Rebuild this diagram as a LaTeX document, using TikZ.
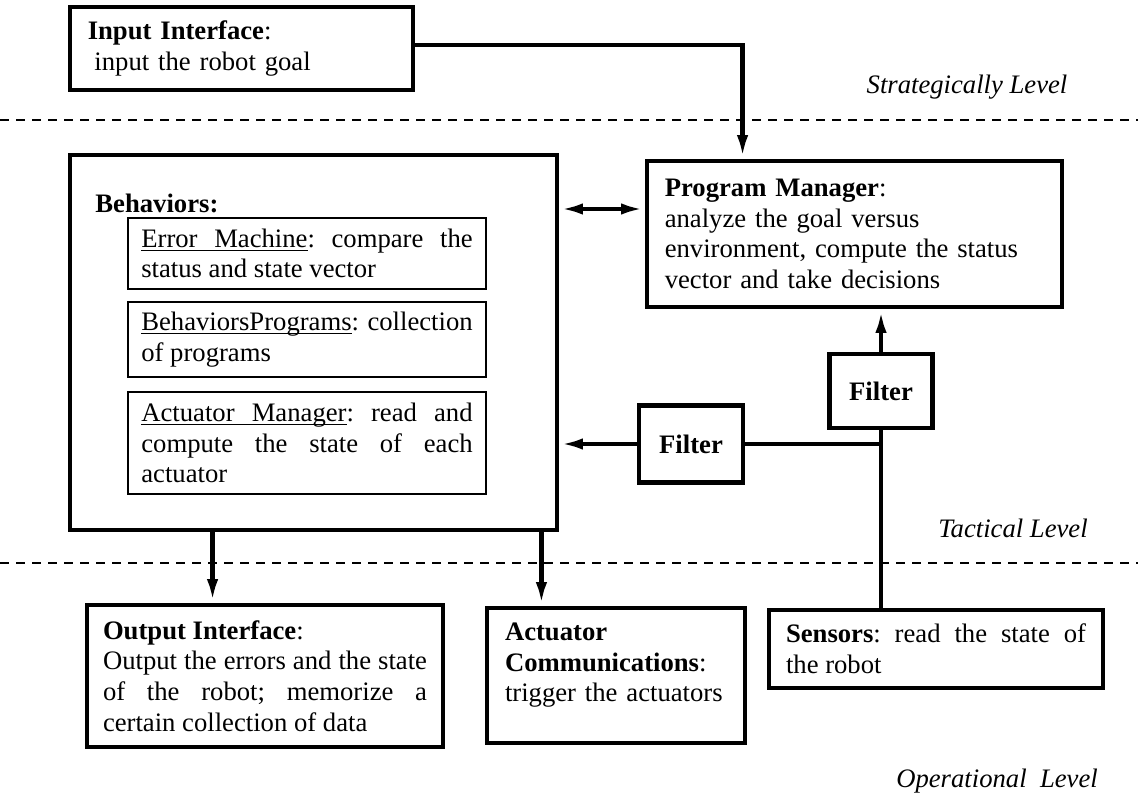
\documentclass[tikz,border=0pt]{standalone}
\usepackage{fontspec}
\setmainfont{Liberation Serif}
\usetikzlibrary{arrows.meta}
\frenchspacing

% underlined words and a stretchable underlined gap
\newcommand{\ulw}[1]{\underline{\smash{#1}}}
\newcommand{\ulsp}{\leaders\hrule height -1.2pt depth 1.6pt\hskip 0.25em plus 0.125em minus 0.08em\relax}

\begin{document}
\begin{tikzpicture}[x=0.45pt, y=-0.45pt, >={Latex[length=10.5pt,width=5pt]},
		font=\fontsize{12}{13.8}\selectfont,
		box/.style={draw, line width=2.2pt, inner xsep=8pt, inner ysep=0pt, align=left},
		sub/.style={draw, line width=0.9pt, inner xsep=6pt, inner ysep=0pt, align=justify,
			minimum width=161.1pt, text width=149.1pt},
		filter/.style={draw, line width=2.2pt, font=\fontsize{12}{13.8}\selectfont\bfseries},
		conn/.style={line width=2pt},
		level/.style={line width=0.9pt, dash pattern=on 4pt off 3.2pt},
		levelname/.style={font=\fontsize{12}{13.8}\selectfont\itshape}]
		\useasboundingbox (0,0) rectangle (1138,793);
		
		% level borders
		\draw[level] (0,120) -- (1138,120);
		\draw[level] (0,563) -- (1138,563);
		\node[levelname] (strat) at (967,87) {Strategically Level};
		\node[levelname] (tact) at (1013,528) {Tactical Level};
		\node[levelname] (oper) at (997,781) {Operational\ \ Level};
		
		% strategic level
		\node[box, minimum width=154.35pt, minimum height=37.35pt, text width=138.35pt] (input) at (241.5,48.5)
			{\textbf{Input Interface}:\\\hspace*{3pt}input the robot goal};
		
		% tactical level
		\node[box, minimum width=186.75pt, minimum height=65.7pt, text width=170.75pt] (pm) at (854.5,234)
			{\textbf{Program Manager}:\\analyze the goal versus\\environment, compute the status\\vector and take decisions};
		\node[box, minimum width=219.15pt, minimum height=168.75pt] (behav) at (313.5,342.5) {};
		\node[anchor=west, inner sep=0pt, font=\fontsize{12}{13.8}\selectfont\bfseries] (behavtitle) at (95,203) {Behaviors:};
		\node[sub, minimum height=31.95pt] (errmach) at (307,253.5)
			{\ulw{Error}\ulsp\ulw{Machine}: compare the\linebreak status and state vector};
		\node[sub, minimum height=33.75pt] (behprog) at (307,339.5)
			{\ulw{BehaviorsPrograms}: collection\linebreak of programs};
		\node[sub, minimum height=45.9pt] (actman) at (307,443)
			{\ulw{Actuator}\ulsp\ulw{Manager}: read and\linebreak compute the state of each\linebreak actuator};
		\node[filter, minimum width=46.8pt, minimum height=34.65pt] (filter1) at (691,444) {Filter};
		\node[filter, minimum width=46.35pt, minimum height=33.3pt] (filter2) at (881,391) {Filter};
		
		% operational level
		\node[box, align=justify, inner xsep=7.2pt, minimum width=160.2pt, minimum height=63.9pt, text width=145.8pt] (outif) at (265,676)
			{\textbf{Output Interface}:\\Output the errors and the state\linebreak of the robot; memorize a\linebreak certain collection of data};
		\node[box, minimum width=116.1pt, minimum height=60.75pt, text width=99.9pt] (actcom) at (616,675.5)
			{\parbox[c][47.25pt][t]{99.9pt}{\raggedright\textbf{Actuator}\\\textbf{Communications}:\\trigger the actuators}};
		\node[box, align=justify, inner xsep=7.65pt, minimum width=150.3pt, minimum height=35.1pt, text width=135pt] (sensors) at (936,649)
			{\textbf{Sensors}: read the state of\linebreak the robot};
		
		% connectors
		\coordinate (goalout) at ([yshift=1.5pt]input.east);
		\coordinate (pmlink) at ([yshift=11.25pt]pm.west);
		\coordinate (junc) at (filter2 |- filter1);
		\coordinate (outlink) at ([xshift=65.25pt]behav.south west);
		\coordinate (actlink) at ([xshift=-8.1pt]behav.south east);
		\draw[conn, ->] (goalout) -| ([xshift=44.1pt]pm.north west);
		\draw[conn, <->] (pmlink -| behav.east) -- (pmlink);
		\draw[conn, ->] (filter2.north) -- (filter2.north |- pm.south);
		\draw[conn] (sensors.north -| filter2.south) -- (filter2.south);
		\draw[conn] (junc) -- (filter1.east);
		\draw[conn, ->] (filter1.west) -- (filter1.west -| behav.east);
		\draw[conn, ->] (outlink) -- (outlink |- outif.north);
		\draw[conn, ->] (actlink) -- (actlink |- actcom.north);
	\end{tikzpicture}
\end{document}
